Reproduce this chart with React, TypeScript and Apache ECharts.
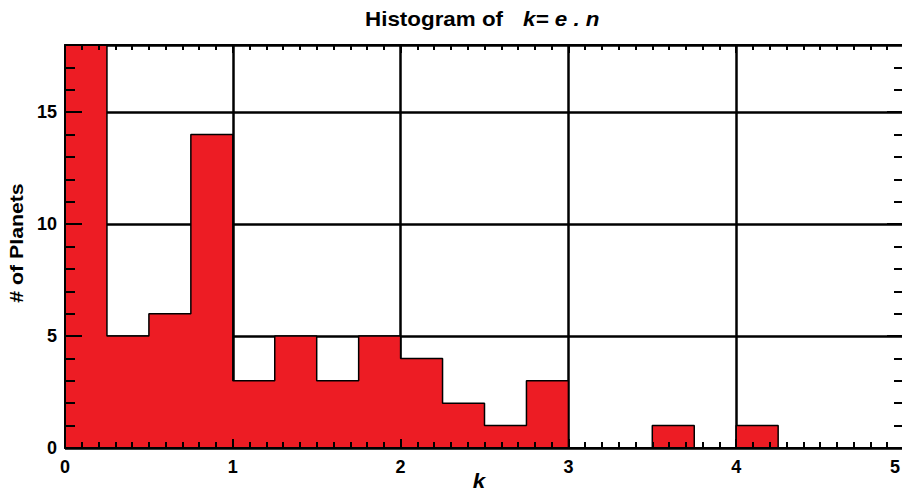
import React, { useEffect, useRef } from "react";
import * as echarts from "echarts";

const binStarts = [0, 0.25, 0.5, 0.75, 1, 1.25, 1.5, 1.75, 2, 2.25, 2.5, 2.75, 3, 3.25, 3.5, 3.75, 4, 4.25, 4.5, 4.75];
const counts = [18, 5, 6, 14, 3, 5, 3, 5, 4, 2, 1, 3, 0, 0, 1, 0, 1, 0, 0, 0];
const binWidth = 0.25;
const xMin = 0, xMax = 5, xInterval = 1;
const yMin = 0, yMax = 18, yInterval = 5;

const FONT = "'Liberation Sans', Arial, Helvetica, sans-serif";

export default function App() {
  const ref = useRef<HTMLDivElement>(null);
  useEffect(() => {
    if (!ref.current) return;
    const chart = echarts.init(ref.current, undefined, { renderer: "svg" });
    const pts: [number, number][] = binStarts.map((x, i) => [x, counts[i]]);
    const last = binStarts[binStarts.length - 1] + binWidth;
    pts.push([last, 0]);

    const labelFont = { color: "#000", fontFamily: FONT, fontWeight: "bold", fontSize: 18 };

    const tickAxisX = (position: "top" | "bottom", labels: boolean, tickLen: number, minorLen: number) => ({
      type: "value",
      position,
      min: xMin,
      max: xMax,
      interval: xInterval,
      z: 5,
      axisLine: { show: true, onZero: false, lineStyle: { color: "#000", width: 2 } },
      axisTick: { show: true, inside: true, length: tickLen, lineStyle: { color: "#000", width: 2 } },
      minorTick: { show: true, splitNumber: 10, length: minorLen, lineStyle: { color: "#000", width: 2 } },
      axisLabel: {
        show: labels,
        ...labelFont,
        margin: 10,
        alignMaxLabel: "right",
        formatter: (v: number) => (v === xMax ? `{m|${v}}` : `${v}`),
        rich: { m: { ...labelFont, padding: [0, 4, 0, 0] } },
      },
      splitLine: { show: false },
    });
    const tickAxisY = (position: "left" | "right", labels: boolean) => ({
      type: "value",
      position,
      min: yMin,
      max: yMax,
      interval: yInterval,
      z: 5,
      axisLine: { show: true, onZero: false, lineStyle: { color: "#000", width: 2 } },
      axisTick: { show: true, inside: true, length: 17, lineStyle: { color: "#000", width: 2 } },
      minorTick: { show: true, splitNumber: 5, length: 10, lineStyle: { color: "#000", width: 2 } },
      axisLabel: {
        show: labels,
        ...labelFont,
        margin: 8,
        showMaxLabel: false,
      },
      splitLine: { show: false },
    });

    chart.setOption({
      animation: false,
      backgroundColor: "#fff",
      grid: { left: 65, top: 45, width: 839, height: 403, containLabel: false, outerBoundsMode: "none" },
      xAxis: [
        tickAxisX("bottom", true, 9, 6),
        tickAxisX("top", false, 8, 5),
        {
          type: "value",
          position: "bottom",
          min: xMin,
          max: xMax,
          interval: xInterval,
          z: 0,
          axisLine: { show: false },
          axisTick: { show: false },
          axisLabel: { show: false },
          splitLine: { show: true, lineStyle: { color: "#000", width: 2.5 } },
        },
      ],
      yAxis: [
        tickAxisY("left", true),
        tickAxisY("right", false),
        {
          type: "value",
          position: "left",
          min: yMin,
          max: yMax,
          interval: yInterval,
          z: 0,
          axisLine: { show: false },
          axisTick: { show: false },
          axisLabel: { show: false },
          splitLine: { show: true, lineStyle: { color: "#000", width: 2.5 } },
        },
      ],
      series: [
        {
          type: "line",
          step: "end",
          data: pts,
          xAxisIndex: 0,
          yAxisIndex: 0,
          symbol: "none",
          z: 2,
          lineStyle: { color: "#000", width: 1.5 },
          areaStyle: { color: "#ED1C24", opacity: 1 },
        },
      ],
      graphic: [
        {
          type: "text",
          x: 365,
          y: 19,
          scaleX: 1.12,
          style: {
            text: "Histogram of",
            font: `bold 20px ${FONT}`,
            fill: "#000",
            align: "left",
            verticalAlign: "middle",
          },
        },
        {
          type: "text",
          x: 523,
          y: 19,
          scaleX: 1.12,
          style: {
            text: "k= e . n",
            font: `italic bold 20px ${FONT}`,
            fill: "#000",
            align: "left",
            verticalAlign: "middle",
          },
        },
        {
          type: "text",
          x: 479,
          y: 481,
          scaleX: 1.12,
          style: {
            text: "k",
            font: `italic bold 20px ${FONT}`,
            fill: "#000",
            align: "center",
            verticalAlign: "middle",
          },
        },
        {
          type: "text",
          x: 16,
          y: 243,
          rotation: Math.PI / 2,
          scaleX: 1.12,
          style: {
            text: "# of Planets",
            font: `bold 19px ${FONT}`,
            fill: "#000",
            align: "center",
            verticalAlign: "middle",
          },
        },
      ],
    });
    return () => chart.dispose();
  }, []);
  return (
    <div
      ref={ref}
      style={{ position: "fixed", left: 0, top: 0, width: 902, height: 491, overflow: "hidden", background: "#fff" }}
    />
  );
}
